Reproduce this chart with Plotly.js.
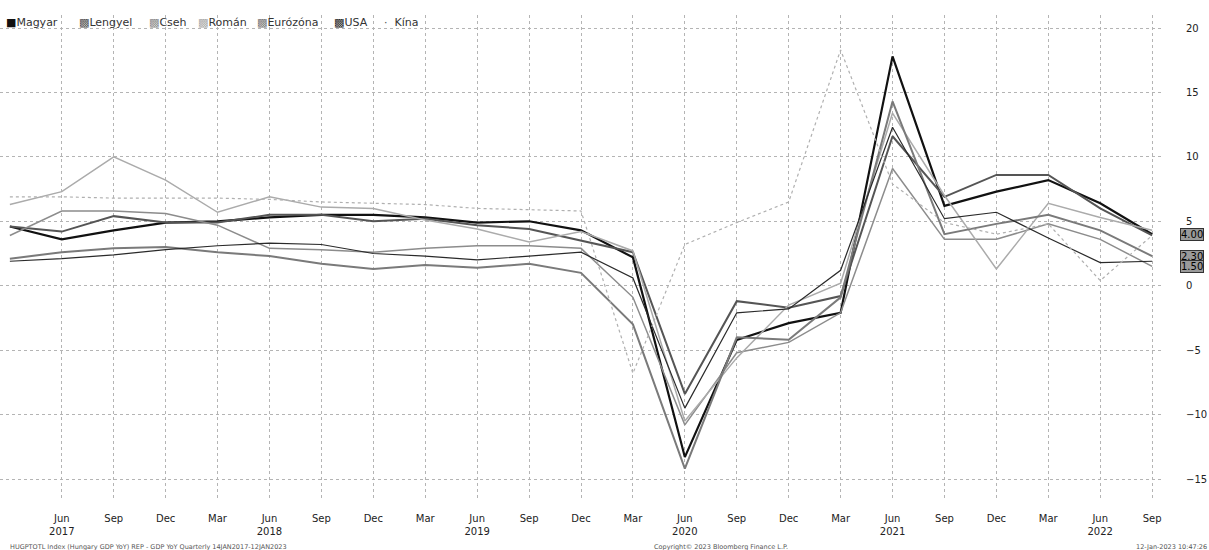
<!DOCTYPE html>
<html>
<head>
<meta charset="utf-8">
<script src="https://cdn.plot.ly/plotly-3.0.1.min.js"></script>
<style>
html,body{margin:0;padding:0;background:#fff;}
#chart{width:1209px;height:550px;}
</style>
</head>
<body>
<div id="chart"></div>
<script>
// Quarters: Mar 2017 ... Sep 2022
var quarters = ["Mar 2017","Jun 2017","Sep 2017","Dec 2017","Mar 2018","Jun 2018","Sep 2018","Dec 2018",
  "Mar 2019","Jun 2019","Sep 2019","Dec 2019","Mar 2020","Jun 2020","Sep 2020","Dec 2020",
  "Mar 2021","Jun 2021","Sep 2021","Dec 2021","Mar 2022","Jun 2022","Sep 2022"];

var magyar   = [4.6, 3.6, 4.3, 4.9, 5.0, 5.3, 5.5, 5.5, 5.3, 4.9, 5.0, 4.3, 2.2, -13.3, -4.2, -2.9, -2.1, 17.8, 6.2, 7.3, 8.2, 6.4, 4.0];
var lengyel  = [4.6, 4.2, 5.4, 4.9, 4.9, 5.5, 5.5, 5.0, 5.2, 4.7, 4.4, 3.5, 2.6, -8.4, -1.2, -1.7, -0.8, 11.6, 6.9, 8.6, 8.6, 6.0, 3.9];
var cseh     = [3.9, 5.8, 5.8, 5.6, 4.7, 2.9, 2.8, 2.6, 2.9, 3.1, 3.1, 2.9, -0.9, -10.8, -5.2, -4.4, -2.1, 9.1, 3.6, 3.6, 4.8, 3.6, 1.5];
var roman    = [6.3, 7.3, 10.0, 8.2, 5.7, 6.9, 6.1, 6.0, 5.1, 4.4, 3.4, 4.2, 2.7, -10.5, -5.6, -1.5, 0.2, 13.4, 7.0, 1.3, 6.4, 5.3, 4.3];
var eurozona = [2.1, 2.6, 2.9, 3.0, 2.6, 2.3, 1.7, 1.3, 1.6, 1.4, 1.7, 1.0, -3.0, -14.2, -4.0, -4.2, -0.9, 14.3, 4.0, 4.8, 5.5, 4.3, 2.3];
var usa      = [1.9, 2.1, 2.4, 2.8, 3.1, 3.3, 3.2, 2.5, 2.3, 2.0, 2.3, 2.6, 0.6, -9.5, -2.1, -1.8, 1.2, 12.3, 5.2, 5.7, 3.7, 1.8, 1.9];
var kina     = [6.9, 6.9, 6.8, 6.8, 6.8, 6.7, 6.5, 6.4, 6.3, 6.0, 5.9, 5.8, -6.8, 3.2, 4.9, 6.5, 18.3, 7.9, 4.9, 4.0, 4.8, 0.4, 3.9];

var seriesNames = ["Magyar","Lengyel","Cseh","Román","Eurózóna","USA","Kína"];

var tickLabels = ["Jun<br>2017","Sep","Dec","Mar","Jun<br>2018","Sep","Dec","Mar","Jun<br>2019","Sep","Dec",
  "Mar","Jun<br>2020","Sep","Dec","Mar","Jun<br>2021","Sep","Dec","Mar","Jun<br>2022","Sep"];
var yTicks = [-15,-10,-5,0,5,10,15,20];

var lastLabels = ["4.00","2.30","1.50"];
var lastLabelValues = [magyar[magyar.length-1], eurozona[eurozona.length-1], cseh[cseh.length-1]];

var xIdx = quarters.map(function(q,i){return i;});
var tickVals = tickLabels.map(function(t,i){return i+1;});

var styles = [
  {color:'#111111', width:2.2},
  {color:'#555555', width:2.0},
  {color:'#8c8c8c', width:1.5},
  {color:'#ababab', width:1.5},
  {color:'#7a7a7a', width:2.0},
  {color:'#2a2a2a', width:1.2},
  {color:'#b0b0b0', width:1.2, dash:'dot'}
];
var legendIcons = ['■','▩','▩','▩','▩','▩','·'];
var legendPos = [4, 77, 147, 196, 255, 332, 382];
var data = [magyar, lengyel, cseh, roman, eurozona, usa, kina];

var traces = data.map(function(vals, k){
  return {
    x: xIdx, y: vals, type:'scatter', mode:'lines', name: seriesNames[k],
    line: styles[k], hoverinfo:'skip', showlegend:false
  };
});

var annotations = [];
seriesNames.forEach(function(n,k){
  var c = k===6 ? '#555' : styles[k].color;
  annotations.push({
    xref:'paper', yref:'paper', x:0, y:1, xanchor:'left', yanchor:'middle',
    xshift:legendPos[k], yshift:-7, showarrow:false,
    text:'<span style="color:'+c+'">'+legendIcons[k]+'</span>'+(k===6?'&nbsp;&nbsp;':'')+n,
    font:{family:'DejaVu Sans', size:11, color:'#333'}
  });
});
lastLabels.forEach(function(t,i){
  annotations.push({
    xref:'paper', yref:'y', x:1, y:lastLabelValues[i], xanchor:'left', yanchor:'middle',
    xshift:18, text:t, showarrow:false,
    font:{family:'DejaVu Sans', size:10, color:'#000'},
    bgcolor:'#9a9a9a', bordercolor:'#333', borderwidth:1, borderpad:0
  });
});
annotations.push({xref:'paper', yref:'paper', x:0, y:0, xanchor:'left', yanchor:'top', xshift:8, yshift:-41,
  text:'HUGPTOTL Index (Hungary GDP YoY) REP - GDP YoY Quarterly 14JAN2017-12JAN2023', showarrow:false,
  font:{family:'DejaVu Sans', size:6.5, color:'#555'}});
annotations.push({xref:'paper', yref:'paper', x:0.561, y:0, xanchor:'left', yanchor:'top', yshift:-41,
  text:'Copyright© 2023 Bloomberg Finance L.P.', showarrow:false,
  font:{family:'DejaVu Sans', size:6.5, color:'#555'}});
annotations.push({xref:'paper', yref:'paper', x:1, y:0, xanchor:'right', yanchor:'top', xshift:47, yshift:-41,
  text:'12-Jan-2023 10:47:26', showarrow:false,
  font:{family:'DejaVu Sans', size:6.5, color:'#555'}});

var layout = {
  width:1209, height:550,
  margin:{l:0, r:47, t:15, b:50},
  paper_bgcolor:'#fff', plot_bgcolor:'#fff',
  font:{family:'DejaVu Sans', size:11, color:'#222'},
  showlegend:false,
  xaxis:{
    range:[-0.19, 22.19], tickmode:'array', tickvals:tickVals, ticktext:tickLabels,
    showgrid:true, gridcolor:'#b4b4b4', griddash:'dot', gridwidth:1,
    zeroline:false, showline:false, ticks:'outside', ticklen:9, tickcolor:'rgba(0,0,0,0)',
    tickfont:{family:'DejaVu Sans', size:10, color:'#222'}
  },
  yaxis:{
    side:'right', range:[-16.63, 21.01], tickmode:'array', tickvals:yTicks,
    showgrid:true, gridcolor:'#b4b4b4', griddash:'dot', gridwidth:1,
    zeroline:false, showline:false, ticks:'outside', ticklen:21, tickcolor:'rgba(0,0,0,0)',
    tickfont:{family:'DejaVu Sans', size:10, color:'#222'}
  },
  annotations:annotations
};

Plotly.newPlot('chart', traces, layout, {displayModeBar:false, staticPlot:true});
</script>
</body>
</html>
